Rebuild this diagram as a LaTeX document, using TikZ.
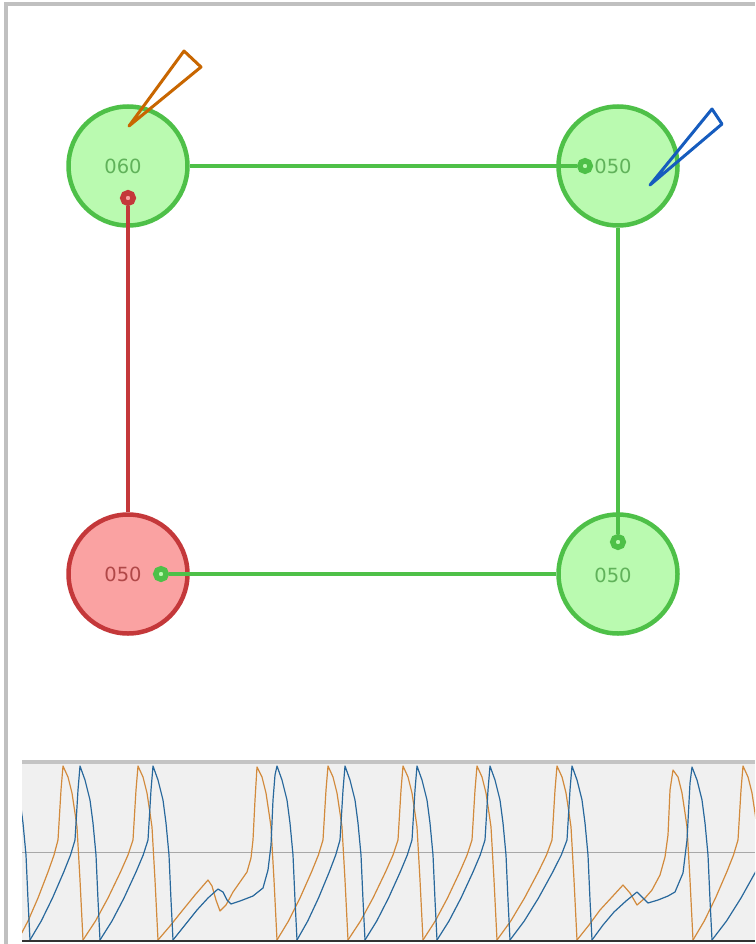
\documentclass[tikz,border=0pt]{standalone}
\usepackage{fontspec}
\setmainfont{DejaVu Sans}
\definecolor{gline}{RGB}{78,192,72}
\definecolor{gfill}{RGB}{186,250,176}
\definecolor{gtext}{RGB}{96,178,90}
\definecolor{rline}{RGB}{196,56,58}
\definecolor{rfill}{RGB}{250,162,162}
\definecolor{rtext}{RGB}{176,72,72}
\definecolor{ptorange}{RGB}{200,102,0}
\definecolor{ptblue}{RGB}{22,92,190}
\definecolor{frame}{RGB}{192,192,192}
\definecolor{chartbg}{RGB}{240,240,240}
\definecolor{chtop}{RGB}{196,196,196}
\definecolor{chmid}{RGB}{168,168,168}
\definecolor{otr}{RGB}{210,138,60}
\definecolor{btr}{RGB}{40,104,156}
\tikzset{
  gnode/.style={circle, draw=gline, fill=gfill, line width=4.5pt, minimum size=119pt, inner sep=0pt},
  rnode/.style={circle, draw=rline, fill=rfill, line width=4.5pt, minimum size=119pt, inner sep=0pt},
  gring/.style={circle, draw=gline, fill=gfill, line width=5.5pt, minimum size=10.5pt, inner sep=0pt},
  rring/.style={circle, draw=rline, fill=rfill, line width=5.5pt, minimum size=10.5pt, inner sep=0pt},
  gedge/.style={draw=gline, line width=3.4pt},
  redge/.style={draw=rline, line width=3.4pt},
  pointer/.style={line width=3pt, line join=round},
  otrace/.style={draw=otr, line width=1.2pt, line join=round},
  btrace/.style={draw=btr, line width=1.2pt, line join=round},
  lbl/.style={inner sep=0pt, font=\fontsize{19.5}{22}\selectfont}
}
\begin{document}
\begin{tikzpicture}[x=1pt, y=-1pt]
\useasboundingbox (0,0) rectangle (755,944);
% outer frame
\draw[frame, line width=4pt] (5.5,944) -- (5.5,4) -- (755,4);
% nodes
\node[gnode] (tl) at (128,166) {};
\node[gnode] (tr) at (618,166) {};
\node[rnode] (bl) at (128,574) {};
\node[gnode] (br) at (618,574) {};
\node[lbl, text=gtext] (ltl) at (123,166) {060};
\node[lbl, text=gtext] (ltr) at (613,166) {050};
\node[lbl, text=rtext] (lbl) at (123,574) {050};
\node[lbl, text=gtext] (lbr) at (613,575) {050};
% ring markers
\node[gring] (r1) at (585,166) {};
\node[gring] (r2) at (618,542) {};
\node[gring] (r3) at (161,574) {};
\node[rring] (r4) at (128,198) {};
% connectors
\draw[gedge] (tl) -- (r1);
\draw[gedge] (tr) -- (r2);
\draw[gedge] (br) -- (r3);
\draw[redge] (bl) -- (r4);
% pointers
\coordinate (oa) at (129,126);
\coordinate (ob) at (184,51);
\coordinate (oc) at (201,67);
\draw[pointer, draw=ptorange] (oa) -- (ob) -- (oc) -- cycle;
\coordinate (ba) at (650,185);
\coordinate (bb) at (712,109);
\coordinate (bc) at (722,124);
\draw[pointer, draw=ptblue] (ba) -- (bb) -- (bc) -- cycle;
% chart
\fill[chartbg] (22,762) rectangle (755,942);
\draw[chtop, line width=4pt] (22,762) -- (755,762);
\draw[chmid, line width=0.8pt] (22,852) -- (755,852);
\begin{scope}
\clip (22,764) rectangle (755,941);
% orange trace
\foreach \S/\P in {18/63, 83/138, 277/328, 348/403, 423/477, 497/557, 693/743}
  \draw[otrace] (\S,940) -- ({\S+0.25*(\P-5-\S)},921) -- ({\S+0.5*(\P-5-\S)},898) -- ({\S+0.75*(\P-5-\S)},872) -- ({\S+0.9*(\P-5-\S)},855) -- ({\P-5},840) -- ({\P-2},790) -- (\P,766) -- ({\P+5},777) -- ({\P+9},793) -- ({\P+12},813) -- ({\P+14},827) -- ({\P+17},880) -- ({\P+20},940);
\draw[otrace] (158,940) -- (170,926) -- (182,911) -- (195,895) -- (208,880) -- (212,886) -- (216,900) -- (220,911) -- (226,905) -- (233,892) -- (240,882) -- (247,872) -- (251,858) -- (253,840) -- (255,800) -- (257,767) -- (262,777) -- (266,793) -- (269,813) -- (271,827) -- (274,880) -- (277,940);
\draw[otrace] (577,940) -- (589,925) -- (600,910) -- (612,897) -- (623,885) -- (630,893) -- (637,905) -- (645,898) -- (652,890) -- (660,875) -- (665,857) -- (668,835) -- (670,790) -- (673,770) -- (678,777) -- (682,793) -- (685,813) -- (687,827) -- (690,880) -- (693,940);
% blue trace
\draw[btrace] (10,766) -- (15,780) -- (20,800) -- (23,823) -- (26,855) -- (28,900) -- (30,940);
\foreach \S/\P in {30/80, 100/153, 297/345, 365/417, 437/490, 510/572, 712/775}
  \draw[btrace] (\S,940) -- ({\S+0.25*(\P-5-\S)},921) -- ({\S+0.5*(\P-5-\S)},898) -- ({\S+0.75*(\P-5-\S)},872) -- ({\S+0.9*(\P-5-\S)},855) -- ({\P-5},840) -- ({\P-2},790) -- (\P,766) -- ({\P+5},780) -- ({\P+10},800) -- ({\P+13},823) -- ({\P+16},855) -- ({\P+18},900) -- ({\P+20},940);
\draw[btrace] (173,940) -- (185,925) -- (197,910) -- (208,898) -- (218,889) -- (223,892) -- (227,900) -- (231,904) -- (240,901) -- (253,896) -- (263,888) -- (268,870) -- (271,845) -- (273,800) -- (275,775) -- (277,766) -- (282,780) -- (287,800) -- (290,823) -- (293,855) -- (295,900) -- (297,940);
\draw[btrace] (592,940) -- (603,925) -- (614,912) -- (626,901) -- (637,892) -- (642,897) -- (648,903) -- (658,900) -- (668,896) -- (675,892) -- (683,873) -- (687,840) -- (690,783) -- (692,767) -- (697,780) -- (702,800) -- (705,823) -- (708,855) -- (710,900) -- (712,940);
\end{scope}
\draw[black!80, line width=2pt] (22,941) -- (755,941);
\end{tikzpicture}
\end{document}
